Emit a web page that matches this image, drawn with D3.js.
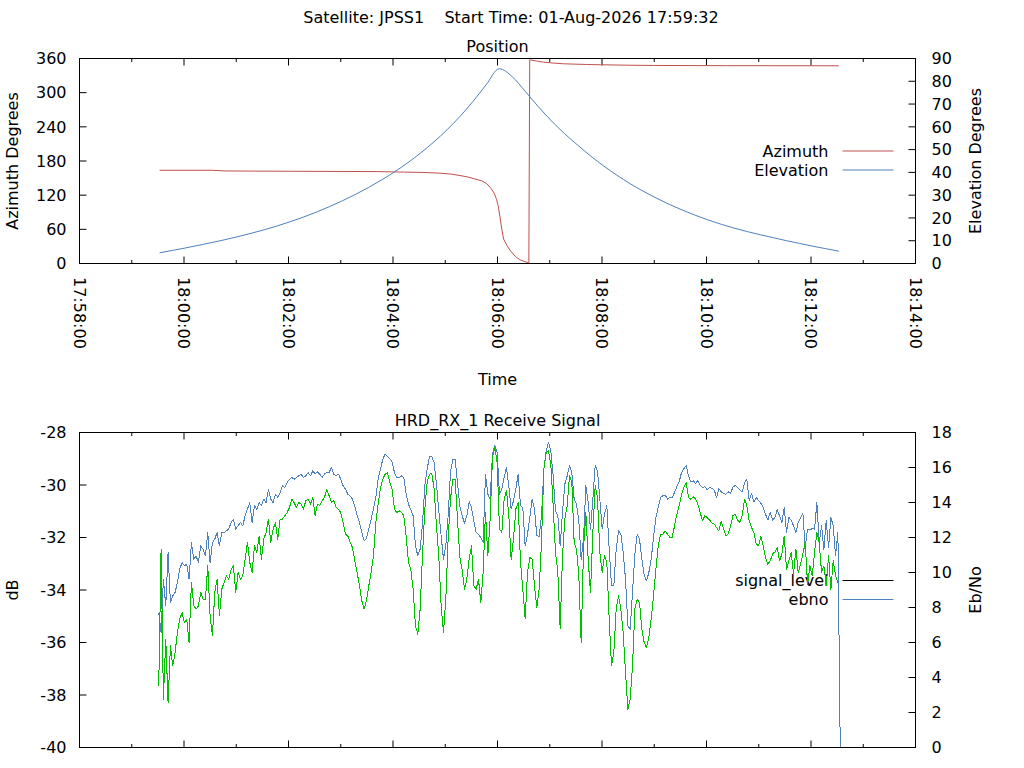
<!DOCTYPE html>
<html>
<head>
  <meta charset="utf-8">
  <script src="https://cdn.jsdelivr.net/npm/d3@7"></script>
  <style>
    body { margin: 0; background: #fff; }
    svg text { font-family: "DejaVu Sans", sans-serif; font-size: 16px; fill: #000; }
  </style>
</head>
<body>
<script>
// pass header
var titleText = "Satellite: JPSS1    Start Time: 01-Aug-2026 17:59:32";
var passDate = "2026-08-01";
var timeDomain = ["17:58:00", "18:14:00"];

// position samples (seconds after pass start)
var posStart = "17:59:32";
var elevationStep = 15;
var elevation = [4.7,5.75,6.85,8.0,9.2,10.45,11.8,13.25,14.8,16.5,18.35,20.35,22.55,24.95,27.55,30.35,33.4,36.7,40.3,44.25,48.6,53.4,58.7,64.6,71.2,78.5,85.5,
  82.0,75.5,68.8,62.6,57.0,52.0,47.2,42.8,38.8,35.1,31.8,28.8,26.0,23.5,21.2,19.1,17.2,15.5,14.0,12.6,11.3,10.0,8.8,7.6,6.5,5.4];
var azimuthSeconds = [0,60,75,150,250,280,300,320,335,345,355,362,370,375,380,384,387,389,391,393,395,399,403,407,410,414,418,421,424,425,426,433,441,452,464,490,506,540,567,650,780];
var azimuth = [163.7,163.7,162.5,162.0,161.4,160.5,160.0,158.8,157.0,154.5,151.5,148.5,145.0,141.0,133.0,124.0,112.0,100.0,80.0,60.0,43.0,31.0,22.0,15.0,10.5,6.5,4.0,2.5,1.2,357.7,357.5,355.5,353.6,352.0,350.7,349.5,349.0,348.2,347.8,347.4,347.2];

// receive signal samples
var signalStart = "17:59:31";
var signalStep = 2.68;
var signalLevel = [
  -37.65,-32.44,-38.16,-35.87,-38.29,-36.13,-36.89,-36.38,-35.62,-35.11,-34.86,-35.24,-35.11,-36.00,-33.71,-34.60,-34.73,-34.60,-34.10,-34.35,
  -34.35,-33.08,-34.98,-35.75,-34.10,-33.59,-34.98,-33.97,-33.71,-33.46,-33.59,-33.21,-33.08,-34.10,-33.33,-33.59,-33.46,-32.83,-32.19,-32.95,
  -33.33,-32.32,-32.57,-31.94,-32.83,-32.06,-31.81,-31.30,-32.19,-31.68,-31.43,-32.06,-31.30,-31.30,-31.17,-31.05,-30.86,-30.54,-30.67,-30.86,
  -30.67,-30.73,-30.92,-30.60,-30.54,-30.73,-30.48,-31.17,-30.73,-30.79,-30.60,-30.48,-30.16,-30.41,
  -30.67,-30.60,-30.86,-30.92,-31.05,-31.43,-31.87,-31.94,-32.19,-32.38,-32.89,-33.33,-33.84,-34.41,-34.73,-34.41,-33.84,-33.33,-32.70,-31.43,
  -30.73,-30.10,-29.78,-29.59,-29.52,-29.90,-30.16,-30.92,-31.05,-30.98,-31.05,-31.17,-31.94,-32.95,-33.21,-33.97,-35.37,-35.68,-34.73,-32.70,
  -30.92,-29.90,-29.59,-29.55,-30.16,-31.56,-32.70,-34.60,-35.62,-34.35,-32.06,-30.54,-29.78,-29.78,-31.30,-32.76,-33.21,-33.97,-33.59,-32.83,
  -32.32,-33.84,-33.97,-33.59,-34.48,-33.33,-31.05,-32.70,-31.30,-28.95,-28.57,-29.14,-31.68,-31.81,-30.54,
  -30.22,-31.17,-32.83,-32.06,-30.92,-30.67,-32.95,-33.97,-35.11,-33.33,-32.76,-32.83,-33.84,-34.67,-33.97,-32.19,-29.40,-28.76,-28.70,-29.21,
  -30.79,-32.57,-33.33,-35.49,-32.70,-31.30,-30.79,-29.65,-29.90,-32.19,-32.44,-33.46,-36.00,-32.44,-31.05,-32.83,-34.10,-31.81,-30.03,-30.48,
  -32.57,-33.33,-32.70,-32.95,-35.11,-36.89,-36.38,-34.73,-34.22,-34.73,-35.62,-37.14,-38.54,-38.16,-36.89,-34.73,-34.35,-34.48,-35.49,-36.00,
  -36.19,-35.81,-35.11,-34.22,-33.21,-32.32,-31.87,-31.87,-31.75,-31.87,-32.00,-32.00,-31.56,-31.11,-30.79,
  -30.35,-30.10,-29.90,-30.48,-30.54,-30.44,-30.54,-30.73,-31.05,-31.37,-31.17,-31.24,-31.33,-31.45,-31.49,-31.62,-31.75,-31.40,-31.66,-31.94,
  -31.87,-31.58,-31.17,-31.11,-31.33,-31.43,-31.17,-30.54,-30.79,-31.37,-31.62,-31.81,-32.25,-32.32,-31.96,-32.32,-32.76,-33.02,-32.89,-32.63,
  -32.55,-32.38,-32.89,-32.63,-31.94,-33.21,-32.89,-32.57,-33.40,-32.44,-33.33,-33.02,-32.63,-32.19,-33.78,-33.08,-33.46,-32.57,-31.81,-32.19,
  -33.33,-33.08,-33.84,-32.70,-33.97,-32.89,-33.46,-33.71
];
var ebno = [
  7.71,6.57,9.62,8.10,11.14,8.29,8.67,8.86,9.43,10.19,10.57,10.38,10.48,9.62,11.71,10.76,10.95,10.57,11.52,11.33,
  10.95,12.29,10.57,11.71,11.90,12.29,11.52,12.29,12.29,12.38,12.48,12.86,13.05,12.48,12.67,12.86,12.67,13.24,13.62,14.00,
  12.86,13.81,13.62,14.00,13.81,14.19,14.00,14.76,14.19,14.00,14.48,14.29,14.57,14.95,14.86,15.14,15.33,15.43,15.33,15.43,
  15.52,15.62,15.43,15.52,15.71,15.52,15.81,15.62,15.75,15.62,15.43,15.62,15.71,15.71,
  16.00,15.62,15.52,15.62,15.33,14.95,14.76,14.48,14.38,14.19,13.81,13.24,12.86,12.29,11.81,11.94,12.48,13.05,13.62,14.29,
  15.33,15.90,16.48,16.76,16.63,16.51,16.32,15.71,15.43,15.43,15.52,15.43,14.48,13.90,13.58,13.24,11.52,10.95,11.33,12.76,
  14.95,15.90,16.63,16.61,16.29,15.05,13.52,12.10,10.76,11.52,13.24,15.71,16.48,16.44,15.14,13.81,13.24,12.82,13.24,14.04,
  13.71,12.95,12.29,12.19,12.00,11.71,15.62,14.48,14.19,16.76,17.28,16.86,14.48,14.76,15.43,
  16.00,14.95,13.62,14.10,14.76,15.62,13.81,13.71,11.52,12.19,13.14,14.19,13.62,12.10,12.06,13.24,15.90,16.95,17.43,16.95,
  15.52,13.52,13.24,11.52,13.43,15.05,15.52,16.10,15.71,14.19,13.90,12.95,10.76,11.90,14.95,14.00,12.48,14.19,16.10,15.81,
  14.19,12.48,13.33,13.81,11.33,9.24,9.24,11.33,12.38,12.19,11.14,9.62,6.95,6.76,8.86,11.05,12.19,11.90,10.76,9.85,
  9.52,10.00,10.76,12.00,13.14,13.71,14.29,14.38,14.42,14.19,14.29,14.29,14.57,14.91,15.18,
  15.71,15.94,16.10,15.52,15.18,15.24,15.10,15.24,14.99,14.86,14.91,14.72,14.86,14.80,14.72,14.29,14.80,14.61,14.51,14.46,
  14.61,14.53,14.86,14.99,14.86,14.72,14.61,15.14,15.33,14.10,14.53,14.04,14.29,14.10,13.96,13.71,13.33,12.99,13.43,12.99,
  13.14,13.58,13.24,12.86,13.71,12.29,13.14,12.99,12.67,12.29,12.86,13.14,13.39,11.43,12.48,12.44,12.51,12.48,14.00,11.71,
  12.67,11.33,12.95,11.43,13.14,12.67,10.95,12.29,0
];

// axis ticks
var azimuthTicks = [0, 60, 120, 180, 240, 300, 360];
var elevationTicks = [0, 10, 20, 30, 40, 50, 60, 70, 80, 90];
var dbTicks = [-40, -38, -36, -34, -32, -30, -28];
var ebnoTicks = [0, 2, 4, 6, 8, 10, 12, 14, 16, 18];

var RED = "#c0504d", BLUE = "#4f81bd", GREEN = "#00c000";

var parseTime = d3.timeParse("%Y-%m-%d %H:%M:%S");
function at(hms) { return parseTime(passDate + " " + hms); }
function plus(d, s) { return new Date(d.getTime() + s * 1000); }

var posT0 = at(posStart), sigT0 = at(signalStart);
var elData = elevation.map(function (v, i) { return { t: plus(posT0, i * elevationStep), v: v }; });
var azData = azimuth.map(function (v, i) { return { t: plus(posT0, azimuthSeconds[i]), v: v }; });
var sigData = signalLevel.map(function (v, i) { return { t: plus(sigT0, i * signalStep), v: v }; });
var ebData = ebno.map(function (v, i) { return { t: plus(sigT0, i * signalStep), v: v }; });

var L = 79.5, R = 915.5;
var x = d3.scaleTime().domain(timeDomain.map(at)).range([L, R]);
var majorTicks = x.ticks(d3.timeMinute.every(2));
var minorTicks = x.ticks(d3.timeMinute.every(1)).filter(function (d) { return d.getMinutes() % 2; });
var fmt = d3.timeFormat("%H:%M:%S");

var svg = d3.select("body").append("svg").attr("width", 1024).attr("height", 768);

function noDomain(g) { g.select(".domain").remove(); }

function frame(top, bottom) {
  [[bottom, d3.axisBottom], [top, d3.axisTop]].forEach(function (p) {
    svg.append("g").attr("transform", "translate(0," + p[0] + ")")
      .call(p[1](x).tickValues(majorTicks).tickSize(-7).tickFormat("").offset(0)).call(noDomain);
    svg.append("g").attr("transform", "translate(0," + p[0] + ")")
      .call(p[1](x).tickValues(minorTicks).tickSize(-3.5).tickFormat("").offset(0)).call(noDomain);
  });
  svg.append("rect").attr("x", L).attr("y", top).attr("width", R - L).attr("height", bottom - top)
    .attr("fill", "none").attr("stroke", "#000").attr("stroke-width", 1);
}

function yAxes(yl, yr, lt, rt) {
  svg.append("g").attr("transform", "translate(" + L + ",0)")
    .call(d3.axisLeft(yl).tickValues(lt).tickSize(-7).tickPadding(13).tickFormat(String).offset(0)).call(noDomain);
  svg.append("g").attr("transform", "translate(" + R + ",0)")
    .call(d3.axisRight(yr).tickValues(rt).tickSize(-7).tickPadding(16).tickFormat(String).offset(0)).call(noDomain);
  svg.selectAll(".tick text").attr("dy", "0.36em");
}

function legend(rows, right, y0) {
  rows.forEach(function (r, i) {
    var y = y0 + i * 19;
    svg.append("text").attr("x", right).attr("y", y + 5.5).attr("text-anchor", "end").text(r[0]);
    svg.append("line").attr("x1", right + 14).attr("x2", right + 65).attr("y1", y).attr("y2", y)
      .attr("stroke", r[1]).attr("stroke-width", 1);
  });
}

function plotLine(data, y, colour, crisp, curve) {
  svg.append("path").datum(data)
    .attr("d", d3.line().curve(curve || d3.curveLinear)
      .x(function (d) { return x(d.t); }).y(function (d) { return y(d.v); }))
    .attr("fill", "none").attr("stroke", colour).attr("stroke-width", 1).attr("stroke-linejoin", "round")
    .attr("shape-rendering", crisp ? "crispEdges" : null);
}

// titles
svg.append("text").attr("x", 511).attr("y", 23).attr("text-anchor", "middle").style("white-space", "pre").text(titleText);

// ---- Position panel ----
var T1 = 58.5, B1 = 263.5;
var yAz = d3.scaleLinear().domain([0, 360]).range([B1, T1]);
var yEl = d3.scaleLinear().domain([0, 90]).range([B1, T1]);
svg.append("text").attr("x", (L + R) / 2).attr("y", 52).attr("text-anchor", "middle").text("Position");
frame(T1, B1);
yAxes(yAz, yEl, azimuthTicks, elevationTicks);
svg.append("g").selectAll("text").data(majorTicks).join("text")
  .attr("transform", function (d) { return "translate(" + x(d) + ",277) rotate(90)"; })
  .attr("dy", "0.36em").text(fmt);
svg.append("text").attr("x", (L + R) / 2).attr("y", 385).attr("text-anchor", "middle").text("Time");
svg.append("text").attr("transform", "translate(18," + (T1 + B1) / 2 + ") rotate(-90)").attr("text-anchor", "middle").text("Azimuth Degrees");
svg.append("text").attr("transform", "translate(981," + (T1 + B1) / 2 + ") rotate(-90)").attr("text-anchor", "middle").text("Elevation Degrees");
legend([["Azimuth", RED], ["Elevation", BLUE]], 828.5, 151);
plotLine(azData, yAz, RED, false);
plotLine(elData, yEl, BLUE, false, d3.curveMonotoneX);

// ---- Receive signal panel ----
var T2 = 432.5, B2 = 747.5;
var yDb = d3.scaleLinear().domain([-40, -28]).range([B2, T2]);
var yEb = d3.scaleLinear().domain([0, 18]).range([B2, T2]);
svg.append("text").attr("x", (L + R) / 2).attr("y", 426).attr("text-anchor", "middle").text("HRD_RX_1 Receive Signal");
frame(T2, B2);
yAxes(yDb, yEb, dbTicks, ebnoTicks);
svg.append("text").attr("transform", "translate(18," + (T2 + B2) / 2 + ") rotate(-90)").attr("text-anchor", "middle").text("dB");
svg.append("text").attr("transform", "translate(981," + (T2 + B2) / 2 + ") rotate(-90)").attr("text-anchor", "middle").text("Eb/No");
legend([["signal_level", "#000"], ["ebno", BLUE]], 828.5, 580.5);
plotLine(ebData, yEb, BLUE, true);
plotLine(sigData, yDb, GREEN, true);
</script>
</body>
</html>
